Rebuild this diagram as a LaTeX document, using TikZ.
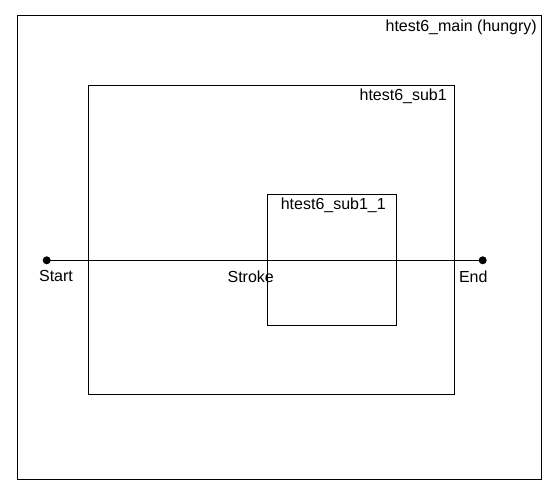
\documentclass[tikz,border=0pt]{standalone}
\usepackage{fontspec}
\setmainfont{Liberation Sans}
\begin{document}
\begin{tikzpicture}[x=1pt,y=-1pt,
  frame/.style={draw, line width=1.1pt, inner sep=0pt, anchor=north west},
  lbl/.style={inner sep=0pt, font=\fontsize{16}{19}\selectfont},
  dot/.style={circle, fill=black, inner sep=0pt, minimum size=8pt}]
\useasboundingbox (0,0) rectangle (557,494);
\fill[white] (0,0) rectangle (557,494);
% boxes
\node[frame, minimum width=524pt, minimum height=464pt] (main) at (16.5,15.3) {};
\node[frame, minimum width=366pt, minimum height=309pt] (sub1) at (87.8,84.8) {};
\node[frame, minimum width=129pt, minimum height=131pt] (sub11) at (266.7,194.3) {};
% labels
\node[lbl, anchor=east] (lmain) at (537,27) {htest6\_main (hungry)};
\node[lbl, anchor=east] (lsub1) at (447,96) {htest6\_sub1};
\node[lbl, anchor=east] (lsub11) at (386,205) {htest6\_sub1\_1};
% stroke
\node[dot] (start) at (46.7,260.3) {};
\node[dot] (end) at (482.7,260.3) {};
\draw[line width=1.1pt] (start.center) -- (end.center);
\node[lbl] (lstart) at (56,276) {Start};
\node[lbl] (lstroke) at (250.7,276.5) {Stroke};
\node[lbl] (lend) at (473.3,276.5) {End};
\end{tikzpicture}
\end{document}
